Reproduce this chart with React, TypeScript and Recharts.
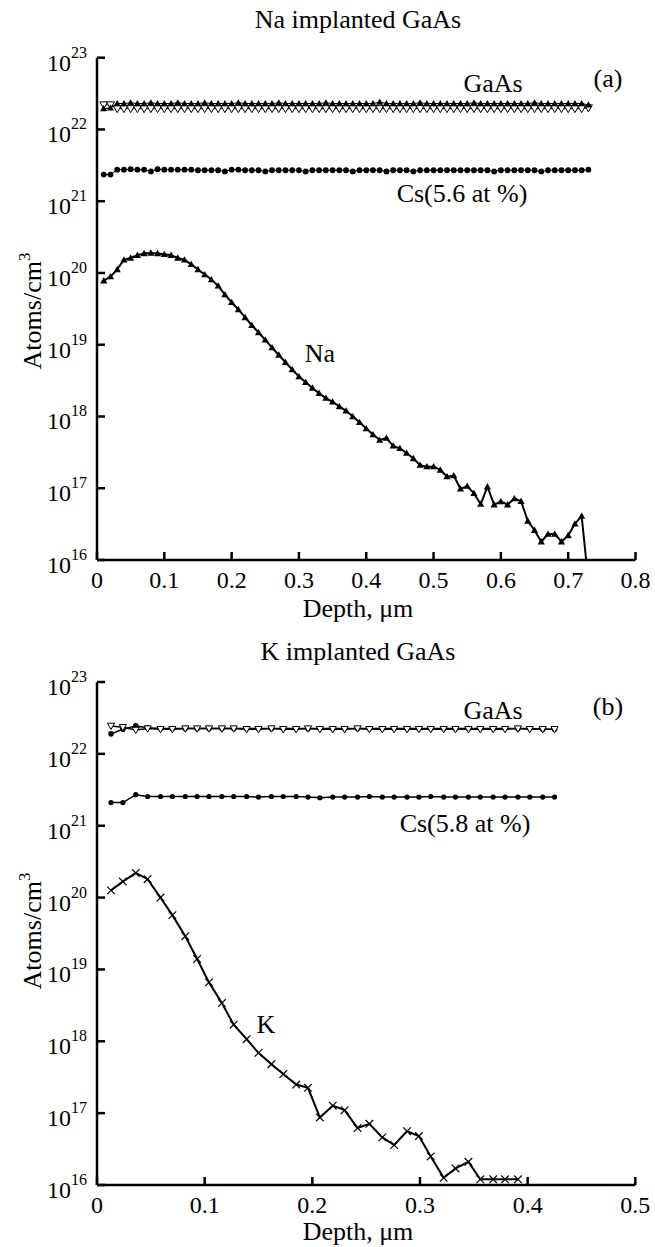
import React from "react";
import { LineChart, Line, XAxis, YAxis } from "recharts";

const SERIF = "'Liberation Serif', 'Times New Roman', serif";

// (a) Na implanted GaAs — depth step 0.01 µm
const depthA = [
  0.01, 0.02, 0.03, 0.04, 0.05, 0.06, 0.07, 0.08, 0.09, 0.1,
  0.11, 0.12, 0.13, 0.14, 0.15, 0.16, 0.17, 0.18, 0.19, 0.2,
  0.21, 0.22, 0.23, 0.24, 0.25, 0.26, 0.27, 0.28, 0.29, 0.3,
  0.31, 0.32, 0.33, 0.34, 0.35, 0.36, 0.37, 0.38, 0.39, 0.4,
  0.41, 0.42, 0.43, 0.44, 0.45, 0.46, 0.47, 0.48, 0.49, 0.5,
  0.51, 0.52, 0.53, 0.54, 0.55, 0.56, 0.57, 0.58, 0.59, 0.6,
  0.61, 0.62, 0.63, 0.64, 0.65, 0.66, 0.67, 0.68, 0.69, 0.7,
  0.71, 0.72, 0.73,
];
const gaA = [
  1.95e22, 2.0e22, 2.3e22, 2.3e22, 2.35e22, 2.3e22, 2.3e22, 2.35e22, 2.3e22, 2.3e22,
  2.3e22, 2.35e22, 2.3e22, 2.3e22, 2.3e22, 2.35e22, 2.3e22, 2.3e22, 2.3e22, 2.3e22,
  2.35e22, 2.3e22, 2.3e22, 2.3e22, 2.3e22, 2.3e22, 2.35e22, 2.3e22, 2.3e22, 2.3e22,
  2.3e22, 2.3e22, 2.3e22, 2.35e22, 2.3e22, 2.3e22, 2.3e22, 2.3e22, 2.3e22, 2.3e22,
  2.3e22, 2.4e22, 2.3e22, 2.3e22, 2.3e22, 2.3e22, 2.3e22, 2.35e22, 2.3e22, 2.3e22,
  2.3e22, 2.3e22, 2.3e22, 2.3e22, 2.3e22, 2.35e22, 2.3e22, 2.3e22, 2.3e22, 2.3e22,
  2.3e22, 2.3e22, 2.3e22, 2.3e22, 2.35e22, 2.3e22, 2.3e22, 2.3e22, 2.3e22, 2.3e22,
  2.3e22, 2.3e22, 2.2e22,
];
const asA = [
  2.2e22, 2.2e22, 1.95e22, 1.95e22, 1.95e22, 1.95e22, 1.95e22, 1.95e22, 1.95e22, 1.95e22,
  1.95e22, 1.95e22, 1.95e22, 1.95e22, 1.95e22, 1.95e22, 1.95e22, 1.95e22, 1.95e22, 1.95e22,
  1.95e22, 1.95e22, 1.95e22, 1.95e22, 1.95e22, 1.95e22, 1.95e22, 1.95e22, 1.95e22, 1.95e22,
  1.95e22, 1.95e22, 1.95e22, 1.95e22, 1.95e22, 1.95e22, 1.95e22, 1.95e22, 1.95e22, 1.95e22,
  1.95e22, 1.95e22, 1.95e22, 1.95e22, 1.95e22, 1.95e22, 1.95e22, 1.95e22, 1.95e22, 1.95e22,
  1.95e22, 1.95e22, 1.95e22, 1.95e22, 1.95e22, 1.95e22, 1.95e22, 1.95e22, 1.95e22, 1.95e22,
  1.95e22, 1.95e22, 1.95e22, 1.95e22, 1.95e22, 1.95e22, 1.95e22, 1.95e22, 1.95e22, 1.95e22,
  1.95e22, 1.95e22, 2.0e22,
];
const csA = [
  2.35e21, 2.35e21, 2.75e21, 2.75e21, 2.8e21, 2.75e21, 2.75e21, 2.6e21, 2.8e21, 2.75e21,
  2.75e21, 2.75e21, 2.75e21, 2.75e21, 2.7e21, 2.7e21, 2.7e21, 2.7e21, 2.6e21, 2.75e21,
  2.75e21, 2.7e21, 2.7e21, 2.7e21, 2.6e21, 2.7e21, 2.7e21, 2.7e21, 2.7e21, 2.7e21,
  2.6e21, 2.7e21, 2.7e21, 2.7e21, 2.7e21, 2.7e21, 2.7e21, 2.6e21, 2.7e21, 2.7e21,
  2.7e21, 2.7e21, 2.6e21, 2.7e21, 2.7e21, 2.7e21, 2.6e21, 2.7e21, 2.7e21, 2.7e21,
  2.7e21, 2.7e21, 2.7e21, 2.7e21, 2.7e21, 2.7e21, 2.7e21, 2.7e21, 2.6e21, 2.7e21,
  2.7e21, 2.7e21, 2.7e21, 2.7e21, 2.7e21, 2.6e21, 2.7e21, 2.7e21, 2.7e21, 2.7e21,
  2.7e21, 2.7e21, 2.75e21,
];
const naA = [
  7.8e19, 8.9e19, 1.12e20, 1.52e20, 1.62e20, 1.77e20, 1.87e20, 1.9e20, 1.87e20, 1.82e20,
  1.77e20, 1.62e20, 1.52e20, 1.32e20, 1.12e20, 9.5e19, 8.1e19, 6.6e19, 5.0e19, 3.9e19,
  3.1e19, 2.4e19, 1.87e19, 1.48e19, 1.17e19, 9.1e18, 7.2e18, 5.7e18, 4.5e18, 3.6e18,
  3.0e18, 2.5e18, 2.1e18, 1.8e18, 1.6e18, 1.38e18, 1.2e18, 1.0e18, 8.3e17, 6.8e17,
  5.6e17, 4.7e17, 5.0e17, 3.9e17, 3.6e17, 3.1e17, 2.6e17, 2.1e17, 2.0e17, 2.0e17,
  1.8e17, 1.45e17, 1.5e17, 9.8e16, 1.07e17, 8.5e16, 6.0e16, 1.05e17, 5.9e16, 6.5e16,
  5.9e16, 7.2e16, 6.6e16, 3.5e16, 2.6e16, 1.8e16, 2.3e16, 2.3e16, 1.8e16, 2.2e16,
  3.2e16, 4.1e16, 5e15,
];

// (b) K implanted GaAs
const depthB = [
  0.013, 0.024, 0.036, 0.047, 0.059, 0.07, 0.082, 0.093, 0.104, 0.116,
  0.127, 0.139, 0.15, 0.162, 0.173, 0.185, 0.196, 0.207, 0.219, 0.23,
  0.242, 0.253, 0.265, 0.276, 0.288, 0.299, 0.31, 0.322, 0.333, 0.345,
  0.356, 0.368, 0.379, 0.391, 0.402, 0.414, 0.425,
];
const gaB = [
  1.9e22, 2.2e22, 2.45e22, 2.3e22, 2.25e22, 2.25e22, 2.25e22, 2.25e22, 2.25e22, 2.25e22,
  2.25e22, 2.25e22, 2.25e22, 2.25e22, 2.25e22, 2.25e22, 2.25e22, 2.25e22, 2.25e22, 2.25e22,
  2.25e22, 2.25e22, 2.25e22, 2.25e22, 2.25e22, 2.25e22, 2.25e22, 2.25e22, 2.25e22, 2.25e22,
  2.25e22, 2.25e22, 2.25e22, 2.25e22, 2.25e22, 2.2e22, 2.2e22,
];
const asB = [
  2.45e22, 2.35e22, 2.15e22, 2.25e22, 2.2e22, 2.2e22, 2.25e22, 2.25e22, 2.25e22, 2.25e22,
  2.25e22, 2.2e22, 2.2e22, 2.25e22, 2.2e22, 2.2e22, 2.25e22, 2.2e22, 2.2e22, 2.2e22,
  2.25e22, 2.2e22, 2.2e22, 2.2e22, 2.2e22, 2.2e22, 2.2e22, 2.2e22, 2.2e22, 2.2e22,
  2.2e22, 2.2e22, 2.2e22, 2.25e22, 2.2e22, 2.2e22, 2.2e22,
];
const csB = [
  2.1e21, 2.1e21, 2.7e21, 2.55e21, 2.55e21, 2.55e21, 2.55e21, 2.55e21, 2.55e21, 2.55e21,
  2.55e21, 2.55e21, 2.5e21, 2.55e21, 2.55e21, 2.55e21, 2.5e21, 2.45e21, 2.5e21, 2.5e21,
  2.5e21, 2.55e21, 2.5e21, 2.5e21, 2.5e21, 2.5e21, 2.55e21, 2.5e21, 2.5e21, 2.5e21,
  2.5e21, 2.5e21, 2.5e21, 2.5e21, 2.5e21, 2.5e21, 2.5e21,
];
const kB = [
  1.26e20, 1.67e20, 2.2e20, 1.8e20, 1.0e20, 5.7e19, 2.9e19, 1.4e19, 6.6e18, 3.4e18,
  1.7e18, 1.07e18, 6.9e17, 4.8e17, 3.5e17, 2.5e17, 2.25e17, 8.7e16, 1.27e17, 1.1e17,
  6.2e16, 7.1e16, 4.6e16, 3.6e16, 5.6e16, 4.8e16, 2.5e16, 1.26e16, 1.7e16, 2.1e16,
  1.2e16, 1.2e16, 1.2e16, 1.2e16, null, null, null,
];

const decadeTicks = [1e16, 1e17, 1e18, 1e19, 1e20, 1e21, 1e22, 1e23];
const depthTicksA = [0, 0.1, 0.2, 0.3, 0.4, 0.5, 0.6, 0.7, 0.8];
const depthTicksB = [0, 0.1, 0.2, 0.3, 0.4, 0.5];

const dataA = depthA.map((d, i) => ({ depth: d, ga: gaA[i], as: asA[i], cs: csA[i], na: naA[i] }));
const dataB = depthB.map((d, i) => ({ depth: d, ga: gaB[i], as: asB[i], cs: csB[i], k: kB[i] }));

// marker shapes
function mark(shape: string, s: number) {
  return (p: any) => {
    const { cx, cy, index } = p;
    const v = p.payload ? p.payload[p.dataKey] : p.value;
    const key = `${shape}-${p.dataKey}-${index}`;
    if (cx == null || cy == null || v == null || v < 1e16) return <g key={key} />;
    if (shape === "triUp")
      return <polygon key={key} points={`${cx},${cy - s} ${cx + s},${cy + s * 0.75} ${cx - s},${cy + s * 0.75}`} fill="#000" />;
    if (shape === "triDown")
      return (
        <polygon key={key} points={`${cx - s},${cy - s * 0.75} ${cx + s},${cy - s * 0.75} ${cx},${cy + s}`} fill="#fff" stroke="#000" strokeWidth={1} />
      );
    if (shape === "cross")
      return (
        <g key={key} stroke="#000" strokeWidth={1.2}>
          <line x1={cx - s} y1={cy - s} x2={cx + s} y2={cy + s} />
          <line x1={cx - s} y1={cy + s} x2={cx + s} y2={cy - s} />
        </g>
      );
    return <circle key={key} cx={cx} cy={cy} r={s} fill="#000" />;
  };
}

const PowTick = (props: any) => {
  const { x, y, payload } = props;
  const exp = Math.round(Math.log10(payload.value));
  return (
    <text x={x} y={y + 13} textAnchor="end" fontFamily={SERIF} fill="#000">
      <tspan fontSize={24}>10</tspan>
      <tspan fontSize={16} dy={-13}>{exp}</tspan>
    </text>
  );
};

const DepthTick = (props: any) => {
  const { x, y, payload } = props;
  return (
    <text x={x} y={y} dy={36} textAnchor="middle" fontFamily={SERIF} fontSize={24} fill="#000">
      {String(payload.value)}
    </text>
  );
};

const axisStroke = { stroke: "#000", strokeWidth: 2.5 };

export default function App() {
  return (
    <div style={{ position: "absolute", left: 0, top: 0, width: 655, height: 1247, background: "#fff" }}>
      <div style={{ position: "absolute", left: 0, top: 0 }}>
        <LineChart width={655} height={620} data={dataA} margin={{ top: 57.7, right: 19.5, bottom: 0, left: 0 }}>
          <XAxis dataKey="depth" type="number" domain={[0, 0.8]} ticks={depthTicksA} interval={0} height={60}
            tickSize={-8} tickMargin={0} axisLine={axisStroke} tickLine={axisStroke} tick={<DepthTick />} />
          <YAxis type="number" scale="log" domain={[1e16, 1e23]} allowDataOverflow ticks={decadeTicks} interval={0}
            width={97} tickSize={-8} tickMargin={18} axisLine={axisStroke} tickLine={axisStroke} tick={<PowTick />} />
          <Line dataKey="as" stroke="#000" strokeWidth={1} dot={mark("triDown", 4)} isAnimationActive={false} />
          <Line dataKey="ga" stroke="#000" strokeWidth={1} dot={mark("triUp", 3.6)} isAnimationActive={false} />
          <Line dataKey="cs" stroke="#000" strokeWidth={1} dot={mark("dot", 2.9)} isAnimationActive={false} />
          <Line dataKey="na" stroke="#000" strokeWidth={2} dot={mark("triUp", 3.6)} isAnimationActive={false} />
        </LineChart>
      </div>
      <div style={{ position: "absolute", left: 0, top: 620 }}>
        <LineChart width={655} height={627} data={dataB} margin={{ top: 62, right: 19.7, bottom: 0, left: 0 }}>
          <XAxis dataKey="depth" type="number" domain={[0, 0.5]} ticks={depthTicksB} interval={0} height={62}
            tickSize={-8} tickMargin={0} axisLine={axisStroke} tickLine={axisStroke} tick={<DepthTick />} />
          <YAxis type="number" scale="log" domain={[1e16, 1e23]} allowDataOverflow ticks={decadeTicks} interval={0}
            width={97} tickSize={-8} tickMargin={18} axisLine={axisStroke} tickLine={axisStroke} tick={<PowTick />} />
          <Line dataKey="ga" stroke="#000" strokeWidth={1.5} dot={mark("dot", 2.8)} isAnimationActive={false} />
          <Line dataKey="as" stroke="#000" strokeWidth={1.5} dot={mark("triDown", 3.6)} isAnimationActive={false} />
          <Line dataKey="cs" stroke="#000" strokeWidth={1.5} dot={mark("dot", 2.6)} isAnimationActive={false} />
          <Line dataKey="k" stroke="#000" strokeWidth={2} dot={mark("cross", 3.8)} isAnimationActive={false} />
        </LineChart>
      </div>
      <svg width={655} height={1247} style={{ position: "absolute", left: 0, top: 0, pointerEvents: "none" }}
        fontFamily={SERIF} fill="#000" fontSize={26}>
        <text x={358} y={28} textAnchor="middle">Na implanted GaAs</text>
        <text x={493} y={92} textAnchor="middle">GaAs</text>
        <text x={608} y={87} textAnchor="middle">(a)</text>
        <text x={462} y={202} textAnchor="middle">Cs(5.6 at %)</text>
        <text x={320} y={362} textAnchor="middle">Na</text>
        <text x={358} y={617} textAnchor="middle">Depth, μm</text>
        <text transform="translate(41,311) rotate(-90)" textAnchor="middle">
          Atoms/cm<tspan fontSize={17} dy={-11}>3</tspan>
        </text>

        <text x={358} y={660} textAnchor="middle">K implanted GaAs</text>
        <text x={493} y={719} textAnchor="middle">GaAs</text>
        <text x={608} y={715} textAnchor="middle">(b)</text>
        <text x={465} y={832} textAnchor="middle">Cs(5.8 at %)</text>
        <text x={266} y={1033} textAnchor="middle">K</text>
        <text x={358} y={1240} textAnchor="middle">Depth, μm</text>
        <text transform="translate(41,931) rotate(-90)" textAnchor="middle">
          Atoms/cm<tspan fontSize={17} dy={-11}>3</tspan>
        </text>
      </svg>
    </div>
  );
}
